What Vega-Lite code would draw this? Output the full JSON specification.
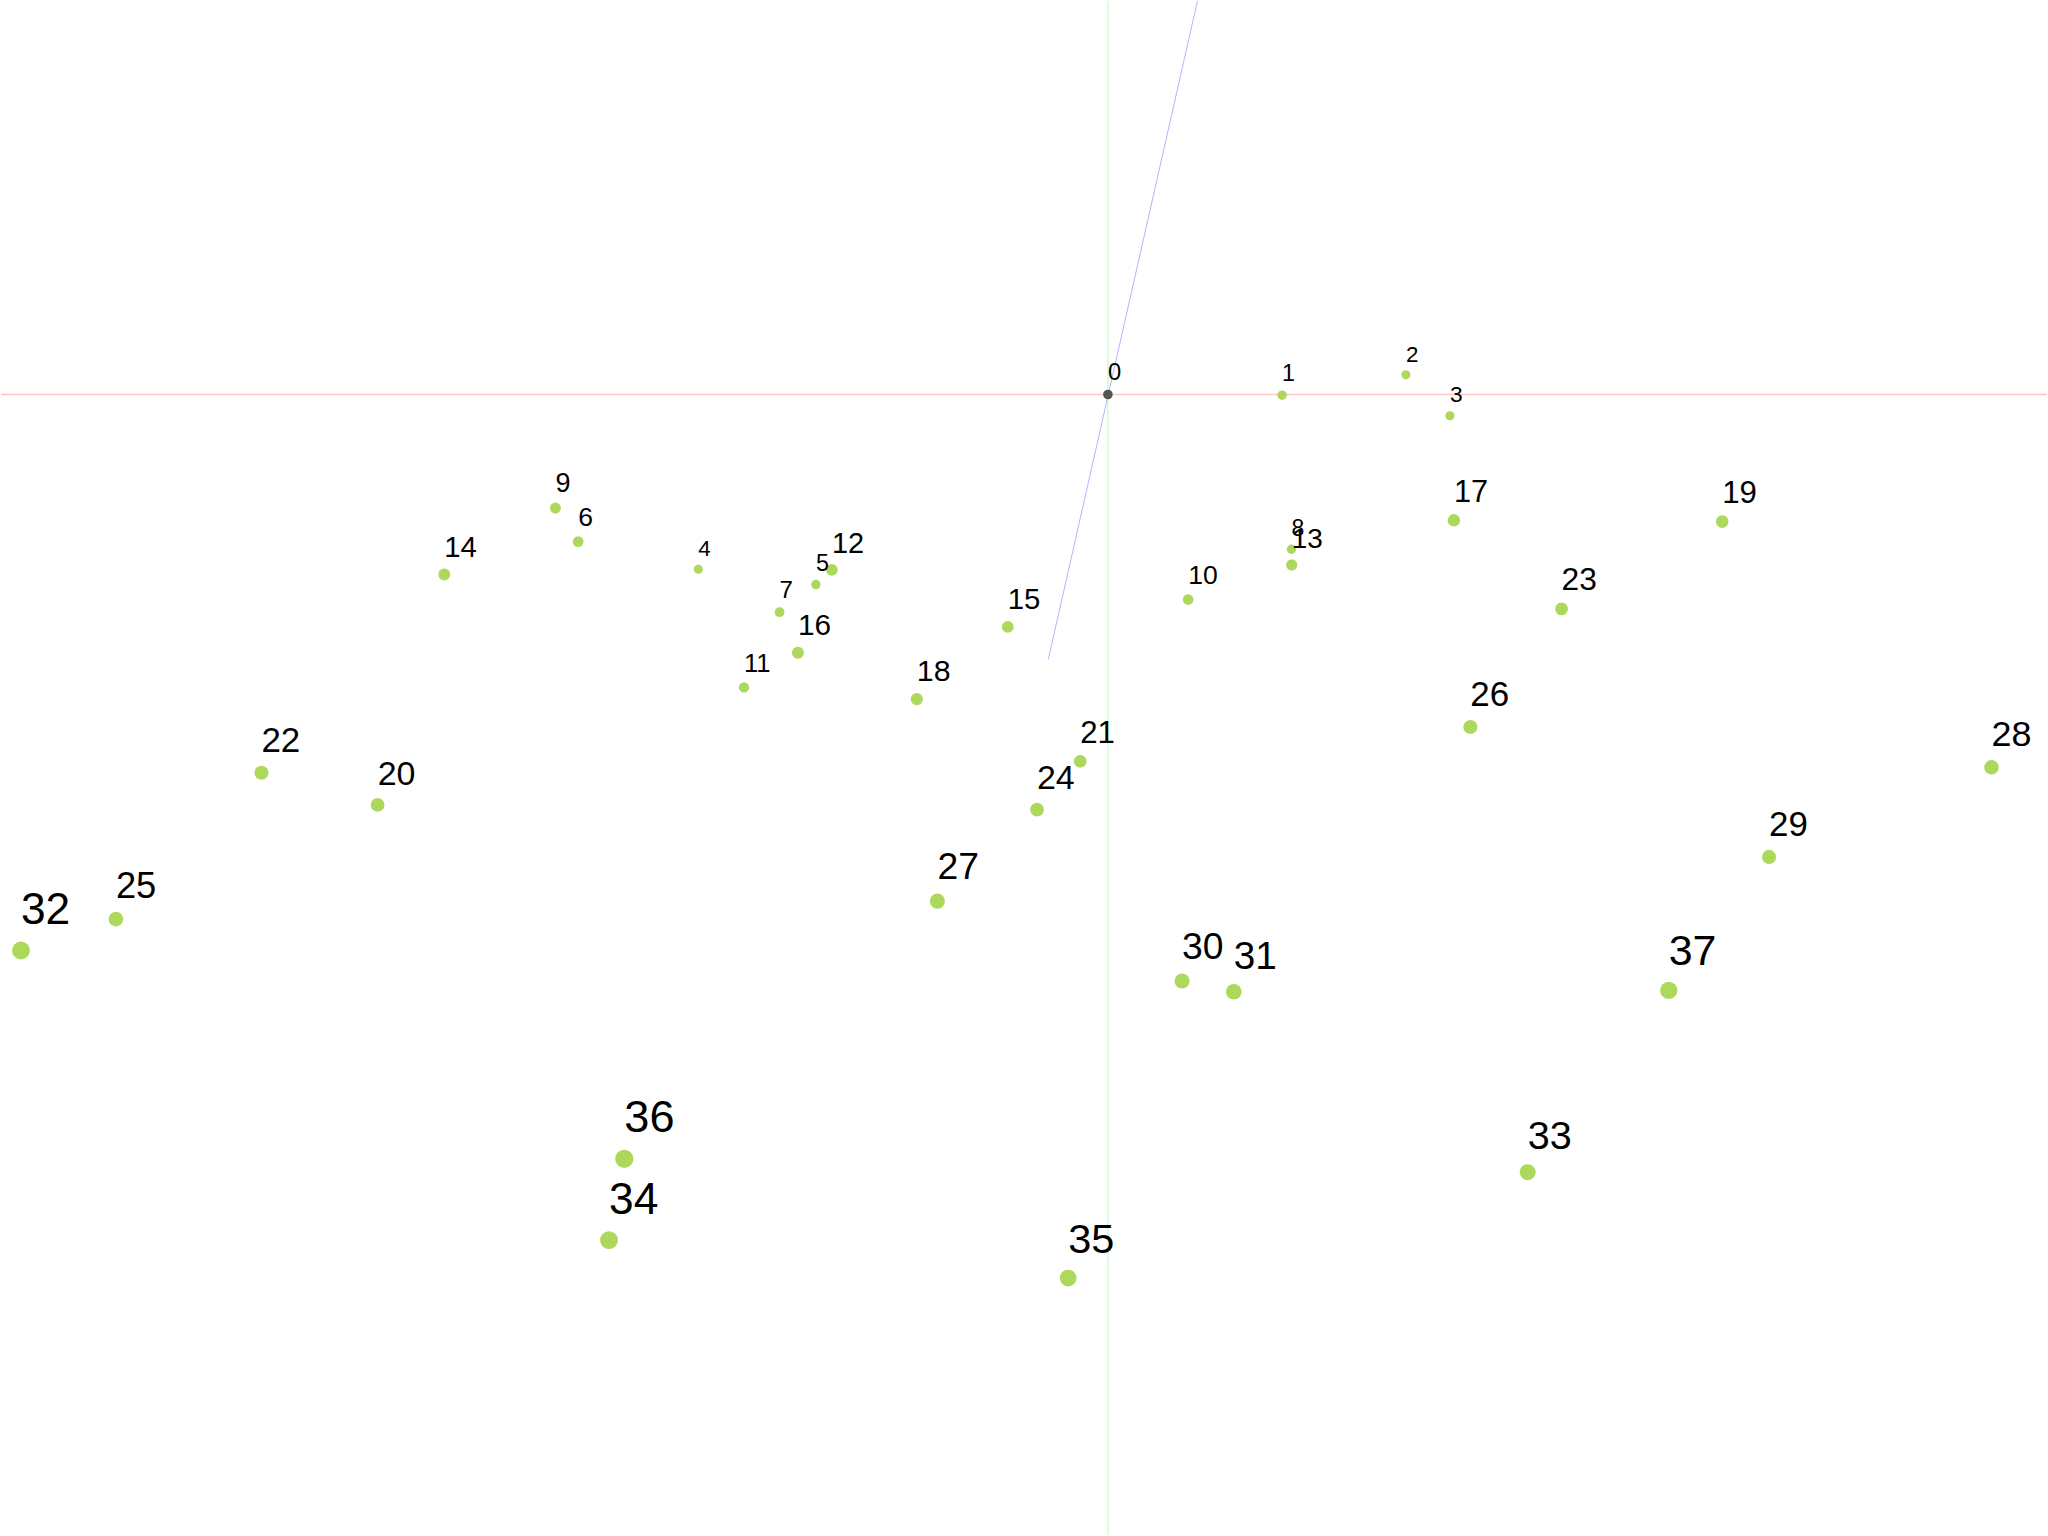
{
  "$schema": "https://vega.github.io/schema/vega-lite/v6.json",
  "width": 2048,
  "height": 1536,
  "autosize": {"type": "fit", "contains": "padding"},
  "padding": 0,
  "background": "#ffffff",
  "config": {"view": {"stroke": null}},
  "datasets": {
    "points": [
      {"id": 0, "x": 0, "y": 0, "s": 17},
      {"id": 1, "x": 174.3, "y": -0.7, "s": 16.7},
      {"id": 2, "x": 298.3, "y": 19.7, "s": 16},
      {"id": 3, "x": 342.3, "y": -21.3, "s": 16.3},
      {"id": 4, "x": -410, "y": -175, "s": 16},
      {"id": 5, "x": -292.3, "y": -190.3, "s": 16.7},
      {"id": 6, "x": -530.3, "y": -147.3, "s": 19},
      {"id": 7, "x": -328.7, "y": -218, "s": 17.3},
      {"id": 8, "x": 183.7, "y": -155, "s": 16.5},
      {"id": 9, "x": -553, "y": -113.7, "s": 19.3},
      {"id": 10, "x": 80.3, "y": -205.3, "s": 19},
      {"id": 11, "x": -364.3, "y": -293.3, "s": 18.3},
      {"id": 12, "x": -276.3, "y": -175.7, "s": 20.7},
      {"id": 13, "x": 184, "y": -170.7, "s": 20},
      {"id": 14, "x": -664.3, "y": -180.3, "s": 21},
      {"id": 15, "x": -100.3, "y": -232.7, "s": 21},
      {"id": 16, "x": -310.3, "y": -258.7, "s": 21.3},
      {"id": 17, "x": 346.3, "y": -126, "s": 22},
      {"id": 18, "x": -191.3, "y": -305, "s": 21.7},
      {"id": 19, "x": 614.9, "y": -127.3, "s": 22.3},
      {"id": 20, "x": -731, "y": -411, "s": 24.3},
      {"id": 21, "x": -27.7, "y": -367.3, "s": 22.3},
      {"id": 22, "x": -847.3, "y": -378.7, "s": 25},
      {"id": 23, "x": 454.1, "y": -214.7, "s": 22.7},
      {"id": 24, "x": -71, "y": -415.7, "s": 24.3},
      {"id": 25, "x": -993, "y": -525.3, "s": 26},
      {"id": 26, "x": 362.8, "y": -333, "s": 25},
      {"id": 27, "x": -170.7, "y": -507.3, "s": 26.7},
      {"id": 28, "x": 884.4, "y": -373.3, "s": 25.7},
      {"id": 29, "x": 661.8, "y": -463, "s": 25},
      {"id": 30, "x": 74.2, "y": -587.3, "s": 26.7},
      {"id": 31, "x": 126, "y": -598, "s": 27.7},
      {"id": 32, "x": -1088, "y": -556.7, "s": 31.7},
      {"id": 33, "x": 420.2, "y": -778.7, "s": 28.3},
      {"id": 34, "x": -499.4, "y": -846.7, "s": 31.7},
      {"id": 35, "x": -39.8, "y": -884.7, "s": 29.7},
      {"id": 36, "x": -484.1, "y": -765.3, "s": 32.3},
      {"id": 37, "x": 561.4, "y": -596.7, "s": 30.7}
    ],
    "zaxis": [
      {"x": 89.6, "y": 394, "x2": -59.7, "y2": -265.3}
    ]
  },
  "layer": [
    {
      "data": {"values": [{}]},
      "mark": {"type": "rule", "color": "#ffc4c4", "strokeWidth": 1.3},
      "encoding": {
        "y": {"datum": 0, "type": "quantitative", "scale": {"domain": [-1142, 394], "nice": false, "zero": false}, "axis": null}
      }
    },
    {
      "data": {"values": [{}]},
      "mark": {"type": "rule", "color": "#c4ffc4", "strokeWidth": 1.3},
      "encoding": {
        "x": {"datum": 0, "type": "quantitative", "scale": {"domain": [-1108, 940], "nice": false, "zero": false}, "axis": null}
      }
    },
    {
      "data": {"name": "zaxis"},
      "mark": {"type": "rule", "color": "#b4b4ff", "strokeWidth": 1},
      "encoding": {
        "x": {"field": "x", "type": "quantitative", "scale": {"domain": [-1108, 940], "nice": false, "zero": false}, "axis": null},
        "y": {"field": "y", "type": "quantitative", "scale": {"domain": [-1142, 394], "nice": false, "zero": false}, "axis": null},
        "x2": {"field": "x2"},
        "y2": {"field": "y2"}
      }
    },
    {
      "data": {"name": "points"},
      "mark": {"type": "point", "shape": "circle", "filled": true, "opacity": 1},
      "encoding": {
        "x": {"field": "x", "type": "quantitative", "scale": {"domain": [-1108, 940], "nice": false, "zero": false}, "axis": null},
        "y": {"field": "y", "type": "quantitative", "scale": {"domain": [-1142, 394], "nice": false, "zero": false}, "axis": null},
        "size": {"field": "s", "type": "quantitative", "scale": {"type": "pow", "exponent": 2, "domain": [0, 40], "range": [0, 511]}, "legend": null},
        "color": {"condition": {"test": "datum.id === 0", "value": "#555555"}, "value": "#acd95c"}
      }
    },
    {
      "data": {"name": "points"},
      "mark": {"type": "text", "align": "left", "baseline": "alphabetic", "font": "Liberation Sans", "color": "#000000", "dy": {"expr": "-0.83 * datum.s"}},
      "encoding": {
        "x": {"field": "x", "type": "quantitative", "scale": {"domain": [-1108, 940], "nice": false, "zero": false}, "axis": null},
        "y": {"field": "y", "type": "quantitative", "scale": {"domain": [-1142, 394], "nice": false, "zero": false}, "axis": null},
        "size": {"field": "s", "type": "quantitative", "scale": {"type": "linear", "domain": [0, 40], "range": [0, 55.9]}, "legend": null},
        "text": {"field": "id", "type": "nominal"}
      }
    }
  ],
  "resolve": {"scale": {"size": "independent"}}
}
